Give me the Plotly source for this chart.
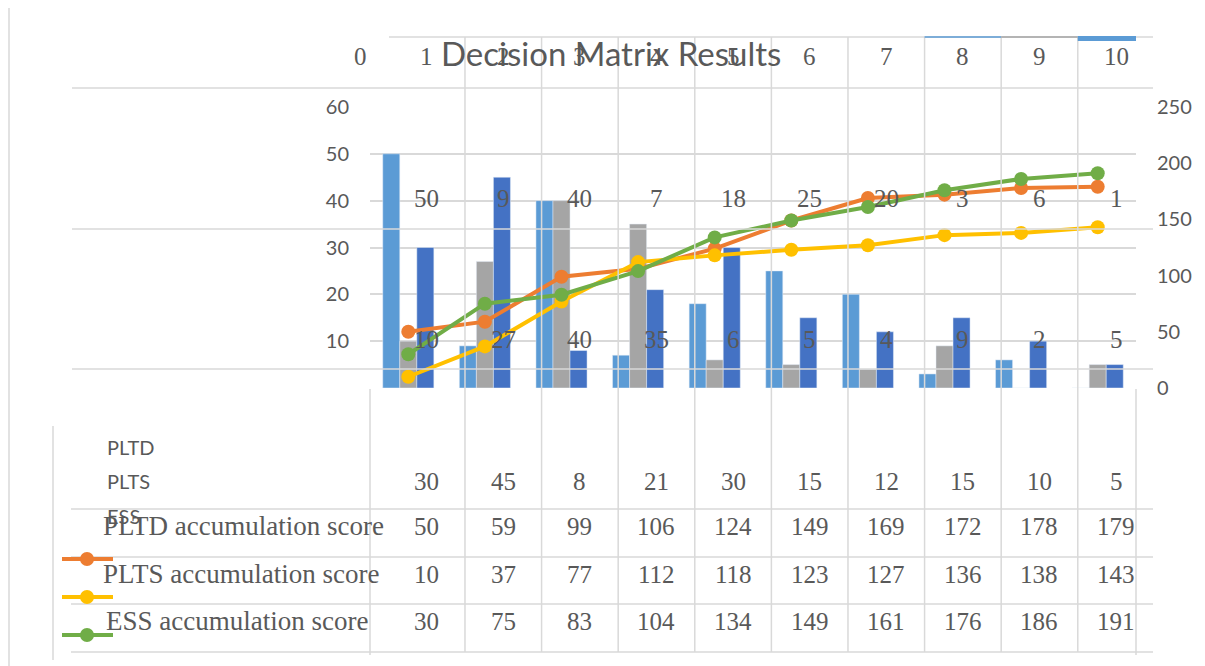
import plotly.graph_objects as go

# ---------------- data ----------------
categories = [1, 2, 3, 4, 5, 6, 7, 8, 9, 10]
top_labels = ["0", "1", "2", "3", "4", "5", "6", "7", "8", "9", "10"]
# value labels printed in the chart
pltd = [50, 9, 40, 7, 18, 25, 20, 3, 6, 1]
plts = [10, 27, 40, 35, 6, 5, 4, 9, 2, 5]
ess = [30, 45, 8, 21, 30, 15, 12, 15, 10, 5]
# bar heights as drawn (the 1 and 2 bars are not visible in the picture)
pltd_bars = [50, 9, 40, 7, 18, 25, 20, 3, 6, 0]
plts_bars = [10, 27, 40, 35, 6, 5, 4, 9, 0, 5]
pltd_acc = [50, 59, 99, 106, 124, 149, 169, 172, 178, 179]
plts_acc = [10, 37, 77, 112, 118, 123, 127, 136, 138, 143]
ess_acc = [30, 75, 83, 104, 134, 149, 161, 176, 186, 191]
left_ticks = [10, 20, 30, 40, 50, 60]
right_ticks = [0, 50, 100, 150, 200, 250]
acc_names = ["PLTD accumulation score", "PLTS accumulation score", "ESS accumulation score"]
series_names = ["PLTD", "PLTS", "ESS"]

# ---------------- style ----------------
C_LB = "#5B9BD5"
C_GR = "#A5A5A5"
C_DB = "#4472C4"
C_OR = "#ED7D31"
C_YE = "#FFC000"
C_GN = "#70AD47"
GRID = "#D9D9D9"
TXT = "#595959"
SERIF = "Liberation Serif"
SANS = "Lato"

OFF = 8  # page body margin
W, H = 1205 - OFF, 666 - OFF
PL, PR, PT, PB = 370, 1136, 107, 388  # plot area in window pixels
ML, MT = PL - OFF, PT - OFF
MR = W - (PR - OFF)
MB = H - (PB - OFF)
PW, PH = PR - PL, PB - PT


def px(xp):
    return (xp - PL) / PW


def py(yp):
    return (PB - yp) / PH


fig = go.Figure()

fig.add_trace(go.Bar(x=categories, y=pltd_bars, name="PLTD", marker_color=C_LB))
fig.add_trace(go.Bar(x=categories, y=plts_bars, name="PLTS", marker_color=C_GR))
fig.add_trace(go.Bar(x=categories, y=ess, name="ESS", marker_color=C_DB))

for vals, col, nm in [(pltd_acc, C_OR, acc_names[0]), (plts_acc, C_YE, acc_names[1]), (ess_acc, C_GN, acc_names[2])]:
    fig.add_trace(go.Scatter(x=categories, y=vals, yaxis="y2", name=nm, mode="lines+markers",
                             line=dict(color=col, width=4), marker=dict(color=col, size=14)))

shapes = []
ann = []


def hline(yp, x0, x1, color=GRID, width=1.5):
    shapes.append(dict(type="line", xref="paper", yref="paper", x0=px(x0), x1=px(x1), y0=py(yp), y1=py(yp),
                       line=dict(color=color, width=width), layer="above"))


def vline(xp, y0, y1, color=GRID, width=1.5):
    shapes.append(dict(type="line", xref="paper", yref="paper", x0=px(xp), x1=px(xp), y0=py(y0), y1=py(y1),
                       line=dict(color=color, width=width), layer="above"))


def label(x, y, text, size=25, family=SERIF, xref="x", anchor="center"):
    ann.append(dict(x=x, y=y, xref=xref, yref="paper", text=text, showarrow=False,
                    xanchor=anchor, yanchor="middle",
                    font=dict(family=family, size=size, color=TXT)))


# outer/table lines
vline(9, 8, 666, width=1.5)
hline(37, 389, 1153)
hline(88, 72, 1153)
hline(229, 72, 1153)
hline(369, 72, 1153)
for yy in [509, 557, 604, 652]:
    hline(yy, 71, 1153)
vline(53, 426, 660)
vline(370, 389, 655)
vline(1136, 389, 655)
# category column lines (offset cell grid)
for k in categories[:-1]:
    shapes.append(dict(type="line", xref="x", yref="paper", x0=k + 0.74, x1=k + 0.74, y0=py(37), y1=py(652),
                       line=dict(color=GRID, width=1.5), layer="above"))
# coloured clipped strips at the very top
shapes.append(dict(type="line", xref="x", yref="paper", x0=7.74, x1=8.74, y0=py(37), y1=py(37),
                   line=dict(color=C_LB, width=1.5), layer="above"))
shapes.append(dict(type="line", xref="x", yref="paper", x0=8.74, x1=9.74, y0=py(37), y1=py(37),
                   line=dict(color=C_GR, width=1.5), layer="above"))
shapes.append(dict(type="rect", xref="x", yref="paper", x0=9.74, x1=10.74, y0=py(41), y1=py(36),
                   fillcolor=C_LB, line=dict(width=0), layer="above"))

# legend keys
for yy, col in [(559, C_OR), (597, C_YE), (635, C_GN)]:
    shapes.append(dict(type="line", xref="paper", yref="paper", x0=px(62), x1=px(113), y0=py(yy), y1=py(yy),
                       line=dict(color=col, width=4), layer="above"))
    shapes.append(dict(type="circle", xref="paper", yref="paper", x0=px(80), x1=px(94), y0=py(yy + 7),
                       y1=py(yy - 7), fillcolor=col, line=dict(width=0), layer="above"))

# top row numbers
label(px(360), py(57), top_labels[0], xref="paper")
for k, lab in zip(categories, top_labels[1:]):
    label(k + 0.24, py(57), lab)

# title
label(px(611), py(53), "Decision Matrix Results", size=33, family=SANS, xref="paper")

# in-plot label rows
for k, v in zip(categories, pltd):
    label(k + 0.24, py(198), str(v))
for k, v in zip(categories, plts):
    label(k + 0.24, py(339), str(v))

# data table
for k, v in zip(categories, ess):
    label(k + 0.24, py(481), str(v))
for row_y, vals in [(526, pltd_acc), (574, plts_acc), (621, ess_acc)]:
    for k, v in zip(categories, vals):
        label(k + 0.24, py(row_y), str(v))

for nm, yy in zip(series_names, [447, 481, 516]):
    label(px(105), py(yy), nm, size=20, family=SANS, xref="paper", anchor="left")
for nm, xx, yy in zip(acc_names, [243, 241, 237], [526, 574, 621]):
    label(px(xx), py(yy), nm, size=27, xref="paper")

fig.update_layout(
    width=W, height=H,
    margin=dict(l=ML, r=MR, t=MT, b=MB, pad=0, autoexpand=False),
    paper_bgcolor="white", plot_bgcolor="white",
    barmode="group", bargap=0.333, bargroupgap=0,
    showlegend=False,
    xaxis=dict(range=[0.5, 10.5], showticklabels=False, showgrid=False, zeroline=False, showline=False,
               ticks=""),
    yaxis=dict(range=[0, 60], tickvals=left_ticks, showgrid=True, gridcolor=GRID, gridwidth=1.5,
               zeroline=False, showline=False, ticks="", ticklabelstandoff=20,
               tickfont=dict(family=SANS, size=20, color=TXT)),
    yaxis2=dict(range=[0, 250], tickvals=right_ticks, overlaying="y", side="right", showgrid=False,
                zeroline=False, showline=False, ticks="", ticklabelstandoff=20,
                tickfont=dict(family=SANS, size=20, color=TXT)),
    shapes=shapes,
    annotations=ann,
)

fig.write_html("out.html")
